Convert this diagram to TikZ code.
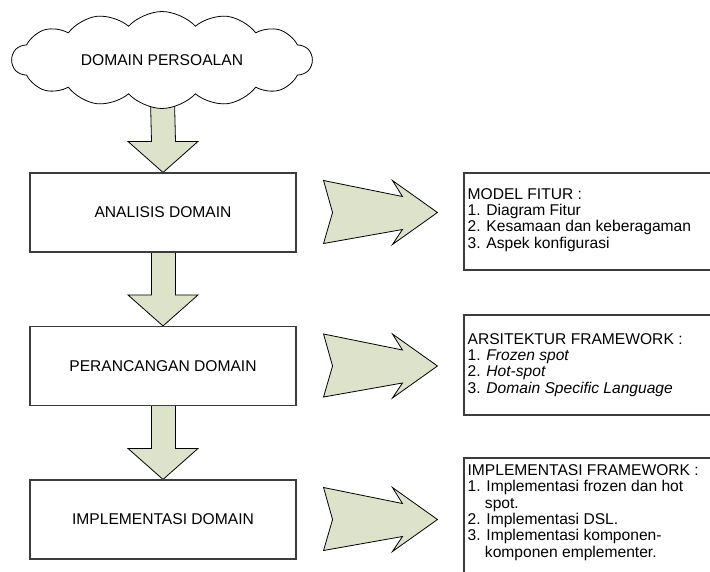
\documentclass[tikz,border=0pt]{standalone}
\usepackage{fontspec}
\setmainfont{Liberation Sans}
\usetikzlibrary{shapes.symbols,calc,backgrounds}
\definecolor{arrowfill}{RGB}{221,226,202}
\definecolor{boxline}{RGB}{60,60,60}
\tikzset{
  txt/.style={font=\fontsize{15.6}{16.3}\selectfont},
  lbox/.style={draw=boxline, line width=1.1pt, fill=white, minimum width=266pt, minimum height=79pt, inner sep=0pt, txt},
  rbox/.style={draw=boxline, line width=1.1pt, fill=white, minimum width=256pt, inner sep=0pt},
  rtext/.style={txt, align=left, inner sep=0pt, anchor=west},
  blockarrow/.style={draw=black, line width=0.8pt, fill=arrowfill, line join=miter},
  cloudnode/.style={cloud, draw=black, line width=0.8pt, fill=white, cloud puffs=14, cloud puff arc=95, aspect=3.1, minimum width=300pt, minimum height=97pt, inner sep=0pt, txt}
}
\begin{document}
\begin{tikzpicture}[x=1pt,y=-1pt]
\useasboundingbox (0,0) rectangle (710,571);
\clip (0,0) rectangle (710,571);
% left column
\node[cloudnode] (dom) at (162,60) {DOMAIN PERSOALAN};
\node[lbox] (b1) at (163,212.5) {ANALISIS DOMAIN};
\node[lbox] (b2) at (163,366) {PERANCANGAN DOMAIN};
\node[lbox] (b3) at (163,519.5) {IMPLEMENTASI DOMAIN};
% right column
\node[rbox, minimum height=97pt] (tA) at (592,221.5) {};
\node[rtext] (tAt) at ($(tA.west)+(4,-1.5)$) {MODEL FITUR :\\1. Diagram Fitur\\2. Kesamaan dan keberagaman\\3. Aspek konfigurasi};
\node[rbox, minimum height=100pt] (tB) at (592,365) {};
\node[rtext] (tBt) at ($(tB.west)+(4,0)$) {ARSITEKTUR FRAMEWORK :\\1. \textit{Frozen spot}\\2. \textit{Hot-spot}\\3. \textit{Domain Specific Language}};
\node[rbox, minimum height=140pt] (tC) at (592,528) {};
\node[rtext, anchor=north west] (tCt) at ($(tC.north west)+(4,7)$) {IMPLEMENTASI FRAMEWORK :\\1. Implementasi frozen dan hot\\\hphantom{1.\ }spot.\\2. Implementasi DSL.\\3. Implementasi komponen-\\\hphantom{3.\ }komponen emplementer.};
% block arrows behind
\begin{scope}[on background layer]
  % down arrows
  \foreach \a/\b in {dom/b1,b1/b2,b2/b3}{
    \draw[blockarrow]
      ($(\a.south)+(-11.5,-8)$) -- ($(\b.north)+(-11.5,-31)$) -- ($(\b.north)+(-35,-31)$)
      -- (\b.north) -- ($(\b.north)+(35,-31)$) -- ($(\b.north)+(12.5,-31)$)
      -- ($(\a.south)+(12.5,-8)$) -- cycle;
  }
\end{scope}
% right arrows
\foreach \a/\b in {b1/tA,b2/tB,b3/tC}{
  \coordinate (t) at ($(\a.east)+(27,0)$);
  \coordinate (h) at ($(\b.west|-\a.east)+(-26,0)$);
  \draw[blockarrow]
    ($(t)+(0,-32)$) -- ($(h)+(-35,-16)$) -- ($(h)+(-45,-32)$) -- (h)
    -- ($(h)+(-45,32)$) -- ($(h)+(-35,17)$) -- ($(t)+(0,31)$) -- ($(t)+(9,0)$) -- cycle;
}
\end{tikzpicture}
\end{document}
